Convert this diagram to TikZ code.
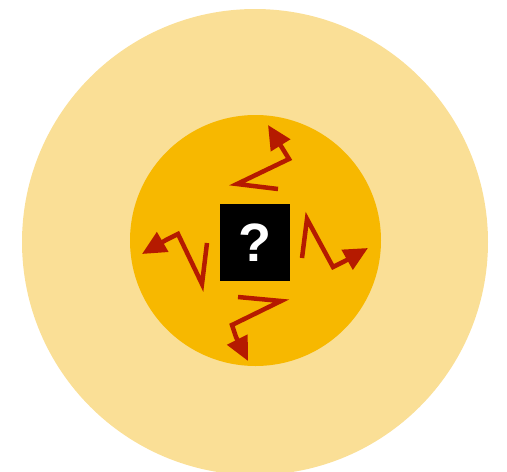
\documentclass[tikz,border=0pt]{standalone}
\usepackage{fontspec}
\setmainfont{Liberation Sans}
\usetikzlibrary{arrows.meta}
\definecolor{outerc}{HTML}{FADF96}
\definecolor{innerc}{HTML}{F7B800}
\definecolor{zapc}{HTML}{B51A00}
\tikzset{
  zap/.style={draw=zapc, line width=4.5pt, line join=miter, -{Triangle[length=24pt,width=22pt]}},
  qbox/.style={fill=black, minimum width=70pt, minimum height=77pt, inner sep=0pt, text=white, font=\bfseries\fontsize{54}{54}\selectfont}
}
\begin{document}
\begin{tikzpicture}[x=1pt,y=-1pt]
\useasboundingbox (0,0) rectangle (507,472);
\fill[outerc] (255,242) circle (233);
\fill[innerc] (255.5,240.5) circle (125.5);
\node[qbox] (q) at (255,242.5) {?};
% top
\coordinate (t0) at (278,189);
\coordinate (t1) at (237,184);
\coordinate (t2) at (289,159);
\coordinate (t3) at (281,146);
\coordinate (t4) at (268,125);
\draw[zap] (t0) -- (t1) -- (t2) -- (t3) -- (t4);
% right
\coordinate (r0) at (302,258);
\coordinate (r1) at (307,219);
\coordinate (r2) at (333,267);
\coordinate (r3) at (345,261);
\coordinate (r4) at (368,248);
\draw[zap] (r0) -- (r1) -- (r2) -- (r3) -- (r4);
% left
\coordinate (l0) at (207,243);
\coordinate (l1) at (202,284);
\coordinate (l2) at (178,234);
\coordinate (l3) at (166,240);
\coordinate (l4) at (142,254);
\draw[zap] (l0) -- (l1) -- (l2) -- (l3) -- (l4);
% bottom
\coordinate (b0) at (238,297);
\coordinate (b1) at (281,301);
\coordinate (b2) at (232,325);
\coordinate (b3) at (236,337);
\coordinate (b4) at (248,361);
\draw[zap] (b0) -- (b1) -- (b2) -- (b3) -- (b4);
\end{tikzpicture}
\end{document}
